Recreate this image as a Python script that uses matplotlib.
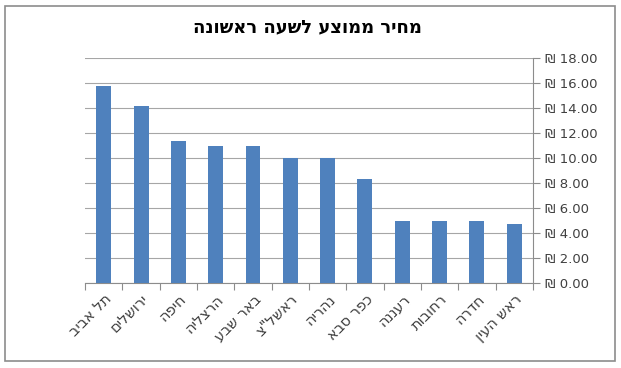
import matplotlib.pyplot as plt
from matplotlib.patches import Rectangle

cities = ["תל אביב", "ירושלים", "חיפה", "הרצליה", "באר שבע", "ראשל\"צ",
          "נהריה", "כפר סבא", "רעננה", "רחובות", "חדרה", "ראש העין"]
prices = [15.8, 14.2, 11.4, 11.0, 11.0, 10.0, 10.0, 8.3, 5.0, 5.0, 5.0, 4.7]
yticks = [0, 2, 4, 6, 8, 10, 12, 14, 16, 18]
title = "מחיר ממוצע לשעה ראשונה"

plt.rcParams['font.family'] = ['DejaVu Sans']

fig = plt.figure(figsize=(6.21, 3.68), dpi=100)
ax = fig.add_axes([0.137, 0.231, 0.721, 0.611])

x = range(len(cities))
ax.bar(x, prices, width=0.4, color="#4F81BD", zorder=3)

ax.set_xlim(-0.5, len(cities) - 0.5)
ax.set_ylim(0, 18)
ax.yaxis.tick_right()
ax.set_yticks(yticks)
ax.set_yticklabels(["₪ %.2f" % v for v in yticks], fontsize=9.5, color="#404040")
ax.grid(axis="y", color="#a6a6a6", linewidth=0.8, zorder=0)
ax.tick_params(axis="y", length=5, color="#8c8c8c", pad=4)

# matplotlib has no bidi support, so hebrew strings are reversed for display
ax.set_xticks([i - 0.5 for i in range(len(cities) + 1)])
ax.set_xticklabels([])
ax.set_xticks(list(x), minor=True)
ax.set_xticklabels([c[::-1] for c in cities], minor=True, rotation=45,
                   ha="right", va="top", rotation_mode="anchor", fontsize=10.5,
                   color="#404040")
ax.tick_params(axis="x", which="major", length=5, color="#8c8c8c")
ax.tick_params(axis="x", which="minor", length=0, pad=6)

for side in ["top", "left"]:
    ax.spines[side].set_visible(False)
ax.spines["right"].set_color("#8c8c8c")
ax.spines["bottom"].set_color("#8c8c8c")

fig.text(0.495, 0.925, title[::-1], ha="center", va="center", fontsize=13,
         fontweight="bold", color="black")

fig.patches.append(Rectangle((0.008, 0.02), 0.982, 0.965, transform=fig.transFigure,
                             fill=False, edgecolor="#8c8c8c", linewidth=1.2))

fig.savefig("out.png", dpi=100)
